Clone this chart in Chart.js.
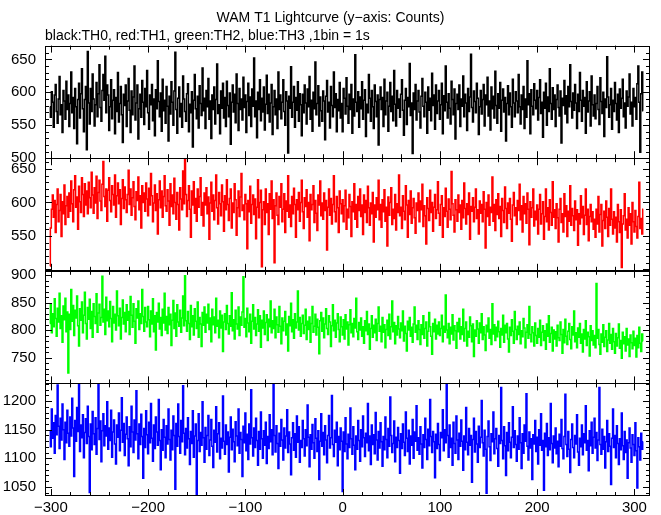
<!DOCTYPE html>
<html>
<head>
<meta charset="utf-8">
<script src="https://cdn.jsdelivr.net/npm/chart.js@4.4.1/dist/chart.umd.min.js"></script>
<style>
  html, body { margin: 0; padding: 0; background: #fff; }
</style>
</head>
<body>
<canvas id="lc" width="661" height="515"></canvas>
<script>
// 1 bin = 1 s, first bin at t = -301 s
var firstBin = -301;

// TH0 (black)
var th0 = [
 578,562,601,585,547,596,612,571,553,590,624,566,581,539,603,587,559,617,574,596,
 548,583,631,569,592,545,606,578,522,589,614,561,598,636,575,540,589,609,513,662,
 584,552,606,571,628,590,549,581,615,563,598,642,577,556,603,627,588,655,569,611,
 596,542,578,619,560,588,604,537,592,571,630,555,583,609,566,524,597,580,611,548,
 587,621,573,539,602,566,593,640,558,584,611,529,575,597,562,618,585,551,606,578,
 633,569,544,596,581,612,557,590,534,604,575,648,586,563,599,541,620,572,588,553,
 609,579,526,594,567,616,585,550,602,661,574,538,591,608,563,583,547,625,590,571,
 556,598,613,540,582,569,601,517,588,627,575,560,594,546,610,583,565,637,572,591,
 545,603,578,621,559,587,530,596,574,608,552,589,643,568,581,537,602,576,614,561,
 592,548,617,580,563,599,521,585,611,570,597,554,628,583,542,606,574,590,558,623,
 577,596,539,586,614,565,593,548,605,579,652,563,587,531,600,574,619,557,591,570,
 608,543,582,626,568,597,555,584,612,536,578,603,566,590,545,631,574,596,560,585,
 619,571,550,601,587,508,594,576,639,562,585,609,547,592,573,616,556,598,581,534,
 597,569,611,584,552,605,578,624,559,588,541,600,575,646,566,583,610,549,593,572,
 556,602,587,528,594,618,570,585,546,609,580,563,631,577,598,540,589,572,615,561,
 583,540,606,591,567,622,579,553,597,574,612,538,590,564,657,585,571,601,547,593,
 575,616,559,588,604,533,582,569,627,591,556,603,578,545,611,586,563,596,520,589,
 608,574,592,548,620,566,587,600,541,579,615,571,594,557,633,582,549,603,576,590,
 562,597,619,573,535,588,606,551,592,578,644,565,584,507,599,574,612,558,587,603,
 570,546,594,621,579,563,600,585,538,608,573,591,557,629,580,596,544,611,568,587,
 603,559,581,614,537,595,572,640,585,561,598,576,552,617,589,566,605,529,583,597,
 574,611,548,590,579,625,563,597,584,542,606,571,593,658,577,555,602,586,569,614,
 591,536,578,603,567,589,612,549,596,581,623,564,587,543,608,575,594,561,632,580,
 553,598,576,615,541,588,605,570,592,526,583,610,566,599,578,547,620,584,563,601,
 587,569,627,578,552,596,574,609,545,590,562,648,581,598,537,604,579,566,613,588,
 575,603,558,592,619,568,585,532,600,576,614,550,593,571,636,583,559,607,574,596,
 548,589,611,577,564,602,523,591,580,618,567,595,554,609,578,642,586,561,599,573,
 612,584,545,597,571,630,588,556,603,579,592,538,616,570,587,601,549,625,581,564,
 596,560,583,609,574,551,622,586,568,600,533,590,577,654,593,562,581,606,544,588,
 571,615,583,558,597,539,605,576,591,620,563,584,546,602,579,593,628,567,585,549,
 606,578,592,559,613,640,585,509,598,631,572
];

// TH1 (red)
var th1 = [
 505,562,590,611,578,603,555,597,620,571,588,612,549,601,583,626,567,595,609,578,
 614,587,632,598,571,619,640,593,608,560,624,601,585,637,612,579,628,596,617,583,
 630,607,592,645,611,584,622,599,639,576,615,633,602,588,627,661,609,594,620,572,
 618,637,603,586,625,612,596,641,578,610,629,598,619,567,606,634,591,623,604,585,
 612,648,597,620,581,607,631,594,574,616,603,638,589,610,562,625,600,614,587,629,
 605,580,621,596,643,610,571,599,626,588,613,553,604,632,592,617,578,609,640,595,
 587,619,602,566,628,594,611,583,636,600,575,615,597,559,622,605,589,647,598,664,
 612,579,603,625,590,548,617,596,631,584,606,572,620,593,609,637,581,600,565,614,
 596,622,583,608,545,599,630,587,611,574,603,641,592,568,615,598,580,626,601,557,
 610,589,634,597,573,606,620,562,599,585,628,604,551,592,617,579,608,643,588,596,
 574,612,598,531,603,586,624,569,597,611,582,605,546,593,634,577,600,618,504,589,
 601,567,620,585,598,552,613,590,632,576,604,510,595,614,581,567,609,593,628,571,
 590,613,555,602,587,640,578,596,564,609,583,621,597,548,604,589,615,572,600,633,
 586,561,607,594,619,578,600,543,612,589,597,625,570,603,584,558,611,596,632,580,
 599,575,614,588,603,529,593,620,581,606,568,597,640,586,571,609,592,555,617,598,
 583,604,571,595,618,560,590,577,612,594,549,601,586,628,575,597,563,609,588,620,
 579,596,552,611,585,603,570,624,592,566,599,583,615,541,596,578,607,589,633,574,
 597,563,604,586,619,572,593,535,608,581,600,622,567,590,576,612,559,598,585,641,
 580,593,561,610,587,574,625,596,548,603,582,617,569,592,606,577,554,599,588,614,
 571,602,589,627,564,595,580,538,607,591,573,618,585,600,557,593,612,576,589,631,
 584,566,597,610,548,592,579,621,587,563,605,590,574,646,598,581,556,604,589,572,
 611,585,596,560,603,577,629,591,568,598,582,614,545,594,587,607,571,593,620,576,
 589,553,602,584,597,571,616,590,532,600,579,611,566,593,585,638,572,597,558,604,
 582,613,576,594,549,606,588,570,623,591,561,599,584,606,575,542,596,615,580,592,
 567,603,588,627,574,595,556,609,583,598,569,614,590,537,601,578,592,620,565,587,
 574,596,553,590,612,568,583,601,545,579,620,571,592,559,604,585,566,631,578,589,
 561,598,577,541,590,606,570,583,556,613,579,595,549,587,572,625,566,591,580,558,
 602,574,589,536,583,568,610,577,594,552,581,620,567,590,543,579,597,571,586,560,
 575,548,590,568,609,556,582,597,535,573,587,561,602,578,549,591,566,620,575,553,
 586,562,578,541,597,571,555,589,503,568,580,613,559,575,547,592,566,583,538,600,
 571,556,588,564,547,579,630,561,576,553,590
];

// TH2 (green)
var th2 = [
 812,848,795,830,806,857,821,789,840,815,867,803,826,778,844,819,858,797,833,722,
 829,801,874,816,845,790,836,822,862,808,771,839,818,851,795,827,869,812,784,841,
 820,856,803,834,787,848,825,812,866,796,831,847,809,823,898,815,838,792,860,817,
 835,806,852,821,779,843,813,829,800,871,826,808,840,784,823,855,811,832,797,846,
 818,834,792,861,827,805,848,816,776,839,822,853,801,830,812,874,825,798,841,815,
 806,843,819,788,835,811,857,797,826,764,832,815,849,802,823,790,838,813,867,800,
 825,794,841,810,829,772,818,854,803,831,789,846,815,807,836,796,822,862,808,899,
 817,798,834,812,783,845,806,826,791,839,816,803,851,787,823,811,770,832,809,842,
 796,829,813,847,801,822,779,838,810,824,795,858,807,818,786,835,804,827,761,815,
 830,801,845,812,793,826,807,868,799,819,784,836,811,802,842,790,824,809,833,897,
 805,821,788,840,813,797,829,776,816,846,802,823,790,811,837,798,826,769,818,804,
 835,792,814,828,781,820,806,853,795,817,803,838,786,824,810,796,843,807,775,822,
 799,816,834,791,811,762,825,808,849,797,819,785,830,804,815,871,800,823,789,812,
 827,794,809,838,783,816,801,824,778,812,843,796,807,829,791,820,805,757,817,832,
 798,822,786,811,839,803,792,826,815,770,808,846,799,818,787,813,830,801,779,824,
 806,791,819,784,828,802,815,773,810,837,795,812,788,821,804,858,797,783,814,800,
 822,789,806,776,817,799,834,792,811,765,803,826,787,809,795,820,781,812,842,798,
 807,779,823,796,810,768,801,818,790,829,784,806,853,797,814,775,808,791,825,802,
 786,813,799,835,780,807,794,762,816,800,823,789,805,778,811,842,796,809,783,817,
 801,774,810,792,826,785,803,815,771,798,832,806,789,756,812,797,820,784,809,793,
 815,790,803,827,779,807,796,864,800,786,812,775,805,793,828,782,808,799,767,814,
 797,821,784,806,792,838,780,803,815,771,798,787,824,808,779,811,752,800,789,817,
 802,776,813,795,830,783,806,791,763,809,797,822,785,801,774,848,793,810,781,805,
 788,816,797,769,803,791,827,778,809,795,812,784,760,805,790,819,798,776,834,801,
 783,807,792,815,775,799,788,821,804,768,796,810,785,843,792,779,806,795,771,813,
 790,776,803,787,818,772,796,808,781,799,765,811,789,826,778,794,805,762,800,784,
 797,771,809,786,781,815,792,758,801,777,820,789,774,798,812,783,766,806,791,835,
 779,795,768,804,787,812,776,793,760,801,784,817,772,796,788,753,808,781,799,773,
 790,768,885,785,801,774,756,793,778,810,770,787,799,761,782,812,776,792,765,803,
 779,758,794,771,786,811,767,781,749,796,775,788,762,803,773,784,752,791,777,766,
 798,772,785,751,790,768,805,776,761,793,780
];

// TH3 (blue)
var th3 = [
 1148,1120,1186,1135,1162,1109,1175,1141,1228,1156,1117,1170,1132,1195,1150,1098,1163,1127,1184,1144,
 1121,1172,1139,1205,1153,1068,1166,1130,1189,1147,1229,1112,1158,1136,1176,1101,1145,1169,1126,1191,
 1138,1040,1160,1115,1182,1143,1124,1171,1107,1152,1230,1133,1165,1094,1148,1178,1122,1157,1139,1199,
 1116,1153,1131,1184,1102,1146,1167,1125,1090,1158,1137,1179,1113,1149,1206,1128,1161,1105,1142,1172,
 1134,1087,1155,1120,1191,1146,1110,1167,1132,1218,1143,1099,1160,1124,1177,1138,1065,1152,1119,1183,
 1141,1108,1163,1127,1196,1135,1095,1158,1117,1172,1146,1123,1203,1131,1080,1150,1114,1168,1137,1101,
 1157,1125,1186,1133,1097,1149,1115,1174,1140,1046,1161,1121,1195,1138,1109,1166,1129,1227,1144,1106,
 1152,1118,1171,1134,1089,1147,1126,1183,1102,1139,1160,1037,1131,1178,1112,1145,1123,1199,1136,1093,
 1154,1116,1140,1175,1105,1132,1168,1121,1084,1149,1128,1190,1111,1143,1162,1099,1135,1118,1209,1130,
 1107,1158,1124,1146,1076,1137,1172,1115,1151,1129,1094,1164,1139,1122,1186,1109,1145,1133,1068,1156,
 1127,1179,1113,1142,1098,1160,1125,1220,1136,1104,1153,1119,1170,1131,1088,1147,1116,1181,1134,1100,
 1148,1123,1163,1091,1138,1117,1176,1129,1150,1106,1232,1140,1111,1157,1126,1082,1144,1121,1168,1132,
 1097,1153,1118,1139,1185,1110,1146,1125,1071,1136,1162,1114,1143,1102,1174,1128,1155,1093,1131,1119,
 1166,1134,1104,1150,1122,1193,1137,1085,1141,1116,1159,1127,1100,1169,1135,1112,1148,1063,1130,1178,
 1121,1145,1106,1157,1132,1092,1140,1175,1118,1136,1210,1124,1103,1149,1128,1163,1087,1138,1115,1153,
 1130,1042,1146,1112,1171,1125,1099,1142,1119,1188,1134,1107,1155,1123,1080,1139,1116,1166,1131,1095,
 1150,1120,1174,1136,1103,1144,1127,1196,1113,1139,1089,1158,1124,1141,1108,1180,1132,1097,1147,1118,
 1162,1129,1086,1138,1115,1172,1133,1101,1152,1121,1207,1140,1110,1126,1165,1094,1137,1119,1154,1131,
 1074,1143,1117,1160,1128,1105,1181,1135,1112,1149,1090,1139,1123,1168,1100,1146,1130,1192,1114,1136,
 1107,1155,1125,1083,1141,1119,1170,1133,1098,1151,1122,1203,1138,1110,1147,1129,1066,1142,1117,1161,
 1124,1096,1145,1136,1185,1113,1150,1127,1229,1140,1102,1158,1119,1135,1088,1163,1126,1109,1174,1132,
 1098,1144,1121,1167,1130,1079,1139,1115,1189,1128,1106,1152,1123,1140,1058,1133,1170,1111,1147,1125,
 1093,1156,1119,1137,1201,1127,1104,1149,1116,1039,1138,1165,1120,1096,1143,1129,1181,1108,1134,1152,
 1117,1086,1140,1126,1224,1131,1099,1155,1122,1070,1145,1113,1162,1128,1101,1137,1190,1119,1148,1124,
 1095,1139,1116,1171,1127,1082,1143,1109,1158,1130,1213,1121,1097,1146,1118,1134,1063,1141,1125,1166,
 1112,1137,1090,1150,1123,1178,1114,1131,1044,1144,1120,1161,1105,1136,1115,1196,1126,1092,1139,1118,
 1153,1108,1130,1085,1142,1121,1168,1117,1099,1138,1212,1124,1103,1147,1116,1075,1133,1160,1119,1101,
 1140,1125,1176,1111,1088,1135,1120,1158,1106,1143,1127,1192,1114,1131,1078,1148,1122,1163,1109,1137,
 1170,1118,1145,1096,1132,1224,1124,1107,1151,1116,1138,1083,1129,1166,1112,1143,1121,1054,1135,1186,
 1119,1140,1101,1157,1126,1089,1134,1115,1179,1122,1098,1147,1110,1132,1065,1127,1153,1118,1093,1141,
 1124,1105,1162,1113,1048,1136,1120,1097,1144,1116,1129
];

var xTicks = [-300, -200, -100, 0, 100, 200, 300];
var yTicks0 = [500, 550, 600, 650];
var yTicks1 = [550, 600, 650];
var yTicks2 = [750, 800, 850, 900];
var yTicks3 = [1050, 1100, 1150, 1200];

var seconds = th0.map(function (v, i) { return firstBin + i; });

var font = { family: "'Liberation Sans', Arial, sans-serif", size: 15 };

function yAxis(min, max, tickList) {
    return {
        type: "linear", position: "left", stack: "lc", stackWeight: 1, offset: false,
        min: min, max: max,
        grid: { display: false, drawTicks: false }, border: { display: false },
        afterBuildTicks: function (s) { s.ticks = tickList.map(function (v) { return { value: v }; }); },
        afterFit: function (s) { s.width = 45; },
        ticks: {
            font: font, color: "#000", padding: 9, autoSkip: false,
            callback: function (v) { return String(v); }
        }
    };
}

// panel frames, inward ticks and per-panel clipping
var frames = {
    id: "frames",
    beforeDatasetDraw: function (chart, args) {
        var a = chart.chartArea, ys = args.meta.yScale, ctx = chart.ctx;
        ctx.save();
        ctx.beginPath();
        ctx.rect(a.left, ys.top, a.right - a.left, ys.bottom - ys.top);
        ctx.clip();
    },
    afterDatasetDraw: function (chart) { chart.ctx.restore(); },
    afterDraw: function (chart) {
        var ctx = chart.ctx, a = chart.chartArea, xs = chart.scales.x;
        ctx.save();
        ctx.strokeStyle = "#000";
        ctx.lineWidth = 1;
        ["y0", "y1", "y2", "y3"].forEach(function (id) {
            var s = chart.scales[id];
            ctx.strokeRect(a.left + 0.5, Math.round(s.top) + 0.5, a.right - a.left - 1, Math.round(s.bottom - s.top) - 1);
            ctx.beginPath();
            for (var v = Math.ceil(s.min / 10) * 10; v <= s.max; v += 10) {
                var len = v % 50 === 0 ? 7 : 4;
                var py = Math.round(s.getPixelForValue(v)) + 0.5;
                ctx.moveTo(a.left, py); ctx.lineTo(a.left + len, py);
                ctx.moveTo(a.right, py); ctx.lineTo(a.right - len, py);
            }
            for (var t = -300; t <= xs.max; t += 20) {
                var l = t % 100 === 0 ? 7 : 4;
                var px = Math.round(xs.getPixelForValue(t)) + 0.5;
                ctx.moveTo(px, s.top); ctx.lineTo(px, s.top + l);
                ctx.moveTo(px, s.bottom); ctx.lineTo(px, s.bottom - l);
            }
            ctx.stroke();
        });
        ctx.restore();
    }
};

function series(id, values, color) {
    return {
        data: values, yAxisID: id, borderColor: color, backgroundColor: color,
        borderWidth: 1.5, pointRadius: 0, stepped: "middle", fill: false
    };
}

new Chart(document.getElementById("lc"), {
    type: "line",
    data: {
        labels: seconds,
        datasets: [
            series("y0", th0, "#000000"),
            series("y1", th1, "#ff0000"),
            series("y2", th2, "#00ff00"),
            series("y3", th3, "#0000ff")
        ]
    },
    options: {
        responsive: false,
        animation: false,
        devicePixelRatio: 1,
        layout: { padding: 0 },
        plugins: {
            legend: { display: false },
            tooltip: { enabled: false },
            title: {
                display: true, text: "WAM T1 Lightcurve (y\u2212axis: Counts)", color: "#000",
                font: { family: font.family, size: 14, weight: "normal" },
                padding: { top: 10, bottom: 0 }
            },
            subtitle: {
                display: true, text: "black:TH0, red:TH1, green:TH2, blue:TH3 ,1bin = 1s", color: "#000",
                align: "start", fullSize: false,
                font: { family: font.family, size: 14, weight: "normal" },
                padding: { top: 1, bottom: 1 }
            }
        },
        scales: {
            x: {
                type: "linear", min: -306, max: 316,
                grid: { display: false, drawTicks: false }, border: { display: false },
                afterBuildTicks: function (s) { s.ticks = xTicks.map(function (v) { return { value: v }; }); },
                afterFit: function (s) { s.height = 19; },
                ticks: {
                    font: font, color: "#000", padding: 3, maxRotation: 0, autoSkip: false,
                    callback: function (v) { return v < 0 ? "\u2212" + Math.abs(v) : String(v); }
                }
            },
            // stacked panels: listed bottom first, so TH0 ends up on top
            y3: yAxis(1034, 1231, yTicks3),
            y2: yAxis(703, 908, yTicks2),
            y1: yAxis(498, 666, yTicks1),
            y0: yAxis(500, 671, yTicks0),
            // empty right margin strip
            margin: {
                type: "linear", position: "right", display: true,
                grid: { display: false, drawTicks: false }, border: { display: false },
                ticks: { display: false },
                afterFit: function (s) { s.width = 11; }
            }
        }
    },
    plugins: [frames]
});
</script>
</body>
</html>
